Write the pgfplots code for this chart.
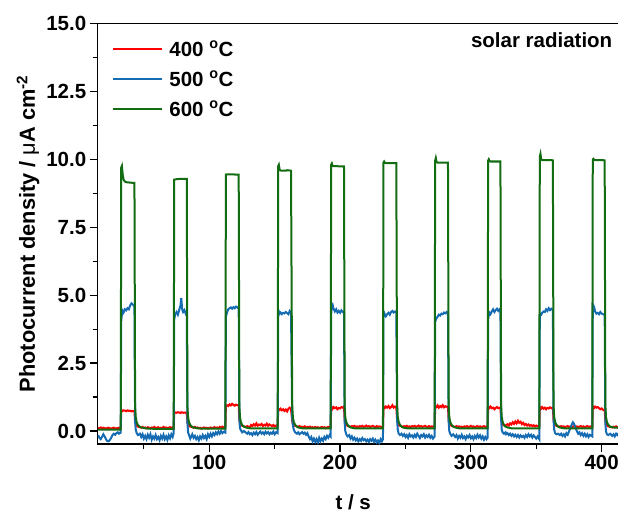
\documentclass[border=0pt]{standalone}
\usepackage{fontspec}
\setmainfont{Liberation Sans}
\usepackage{pgfplots}
\pgfplotsset{compat=1.18}
\usepackage{pgfplotstable}
\usetikzlibrary{calc}
\definecolor{cred}{RGB}{255,0,0}
\definecolor{cblue}{RGB}{22,108,178}
\definecolor{cgreen}{RGB}{18,108,18}

\pgfplotstableread{
t r b g
15 0.12 -0.15 0.05
16 0.10 -0.25 0.05
17 0.13 -0.30 0.05
18 0.11 -0.22 0.05
19 0.12 -0.12 0.05
20 0.10 -0.20 0.05
21 0.09 -0.30 0.05
22 0.11 -0.37 0.05
23 0.12 -0.38 0.05
24 0.10 -0.33 0.05
25 0.08 -0.25 0.05
26 0.11 -0.15 0.05
27 0.12 -0.10 0.05
28 0.10 -0.14 0.05
29 0.09 -0.08 0.05
30 0.11 -0.05 0.05
31 0.12 -0.10 0.05
32.3 0.10 -0.06 0.05
32.7 0.70 4.05 9.70
33.2 0.76 4.30 9.76
33.8 0.74 4.42 9.45
34.5 0.76 4.36 9.25
35.5 0.75 4.48 9.18
36.5 0.73 4.44 9.16
37.5 0.76 4.52 9.15
38.5 0.74 4.48 9.15
39.5 0.75 4.62 9.14
40.5 0.72 4.70 9.14
41.5 0.74 4.66 9.13
42.8 0.72 4.58 9.13
43.3 0.35 0.35 0.90
43.8 0.26 0.05 0.50
44.5 0.20 -0.08 0.32
45.5 0.16 -0.15 0.22
47 0.14 -0.10 0.15
48 0.12 -0.22 0.13
49 0.15 -0.12 0.12
50 0.11 -0.28 0.11
51 0.13 -0.18 0.10
52 0.10 -0.30 0.10
53 0.14 -0.14 0.09
54 0.12 -0.25 0.09
55 0.09 -0.12 0.09
56 0.13 -0.32 0.09
57 0.11 -0.20 0.08
58 0.15 -0.28 0.08
59 0.10 -0.15 0.08
60 0.12 -0.30 0.08
61 0.14 -0.22 0.08
62 0.09 -0.34 0.08
63 0.12 -0.18 0.08
64 0.10 -0.28 0.08
65 0.15 -0.14 0.08
66 0.11 -0.30 0.08
67 0.13 -0.20 0.08
68 0.10 -0.33 0.08
69 0.12 -0.16 0.08
70 0.14 -0.27 0.08
71 0.11 -0.12 0.08
72 0.13 -0.22 0.08
72.8 0.12 -0.08 0.08
73.2 0.66 4.10 9.25
74 0.68 4.30 9.26
75 0.67 4.38 9.27
76 0.69 4.28 9.27
77 0.68 4.45 9.28
78 0.66 4.62 9.28
78.6 0.69 4.90 9.28
79.2 0.68 4.50 9.28
80 0.67 4.38 9.28
81 0.68 4.45 9.28
82 0.67 4.32 9.28
82.8 0.68 4.40 9.28
83.3 0.32 0.30 0.90
83.8 0.24 -0.05 0.50
84.5 0.19 -0.15 0.32
85.5 0.16 -0.28 0.22
87 0.14 -0.12 0.15
88 0.12 -0.25 0.13
89 0.15 -0.18 0.12
90 0.11 -0.30 0.11
91 0.13 -0.22 0.10
92 0.10 -0.34 0.10
93 0.12 -0.20 0.09
94 0.09 -0.28 0.09
95 0.11 -0.15 0.09
96 0.13 -0.26 0.09
97 0.10 -0.18 0.09
98 0.12 -0.30 0.09
99 0.09 -0.12 0.09
100 0.11 -0.22 0.09
101 0.13 -0.10 0.09
102 0.10 -0.20 0.09
103 0.12 -0.08 0.09
104 0.14 -0.15 0.09
105 0.11 -0.05 0.09
106 0.13 -0.12 0.09
107 0.10 -0.02 0.09
108 0.15 -0.10 0.09
109 0.12 0.00 0.09
110 0.16 -0.08 0.09
111 0.13 -0.03 0.09
112.3 0.15 -0.06 0.09
112.7 0.90 4.20 9.44
113.5 0.95 4.35 9.45
114.5 0.92 4.48 9.45
115.5 0.98 4.52 9.45
116.5 0.94 4.55 9.45
117.5 1.00 4.50 9.45
118.5 0.96 4.56 9.45
119.5 0.93 4.52 9.44
120.5 0.97 4.58 9.44
121.5 0.95 4.55 9.44
122.5 0.96 4.50 9.44
123 0.40 0.40 0.90
123.5 0.28 0.10 0.50
124.2 0.22 0.02 0.32
125.2 0.19 -0.05 0.22
126.5 0.17 0.00 0.16
128 0.15 -0.06 0.13
129 0.18 -0.10 0.12
130 0.16 -0.04 0.11
131 0.14 -0.12 0.10
132 0.22 -0.08 0.10
133 0.18 -0.15 0.10
134 0.25 -0.06 0.10
135 0.20 -0.12 0.10
136 0.28 -0.04 0.10
137 0.19 -0.14 0.10
138 0.24 -0.08 0.10
139 0.21 -0.02 0.10
140 0.26 -0.10 0.10
141 0.18 -0.05 0.10
142 0.23 -0.12 0.10
143 0.20 -0.03 0.10
144 0.27 -0.09 0.10
145 0.19 -0.04 0.10
146 0.24 -0.12 0.10
147 0.21 -0.06 0.10
148 0.18 -0.10 0.10
149 0.22 -0.02 0.10
150 0.17 -0.12 0.10
151 0.20 -0.05 0.10
152.3 0.18 -0.08 0.10
152.7 0.75 4.20 9.75
153.2 0.80 4.40 9.80
153.8 0.78 4.32 9.62
154.5 0.82 4.36 9.59
155.5 0.76 4.30 9.58
156.5 0.80 4.35 9.58
157.5 0.74 4.33 9.58
158.5 0.79 4.38 9.58
159.5 0.72 4.34 9.60
160.5 0.82 4.30 9.59
161.5 0.86 4.42 9.59
162.5 0.80 4.36 9.58
163.4 0.38 0.50 0.95
163.9 0.27 0.20 0.52
164.6 0.22 0.05 0.33
165.6 0.19 -0.05 0.23
167 0.17 -0.10 0.16
168 0.15 -0.05 0.13
169 0.18 -0.12 0.12
170 0.14 -0.08 0.11
171 0.16 -0.04 0.10
172 0.13 -0.10 0.10
173 0.17 -0.06 0.10
174 0.12 -0.14 0.10
175 0.15 -0.08 0.10
176 0.13 -0.20 0.10
177 0.16 -0.30 0.10
178 0.12 -0.22 0.10
179 0.14 -0.38 0.10
180 0.11 -0.28 0.10
181 0.15 -0.40 0.10
182 0.12 -0.30 0.10
183 0.14 -0.42 0.10
184 0.11 -0.25 0.10
185 0.13 -0.38 0.10
186 0.15 -0.28 0.10
187 0.12 -0.36 0.10
188 0.14 -0.22 0.10
189 0.10 -0.30 0.10
190 0.13 -0.18 0.10
191 0.15 -0.25 0.10
192 0.12 -0.15 0.10
192.8 0.14 -0.20 0.10
193.2 0.80 4.30 9.80
193.7 0.86 4.60 9.85
194.3 0.82 4.65 9.76
195 0.88 4.50 9.75
196 0.84 4.40 9.75
197 0.87 4.48 9.75
198 0.80 4.36 9.75
199 0.85 4.42 9.74
200 0.83 4.35 9.74
201 0.88 4.44 9.74
202 0.86 4.38 9.74
203 0.90 4.40 9.74
203.5 0.40 0.30 0.92
204 0.28 0.00 0.50
204.7 0.22 -0.12 0.33
205.7 0.19 -0.20 0.23
207 0.17 -0.15 0.16
208 0.15 -0.28 0.13
209 0.18 -0.20 0.12
210 0.16 -0.32 0.11
211 0.19 -0.25 0.10
212 0.15 -0.35 0.10
213 0.17 -0.28 0.10
214 0.14 -0.38 0.10
215 0.18 -0.30 0.10
216 0.16 -0.36 0.10
217 0.19 -0.26 0.10
218 0.15 -0.34 0.10
219 0.17 -0.30 0.10
220 0.20 -0.38 0.10
221 0.16 -0.32 0.10
222 0.18 -0.40 0.10
223 0.15 -0.30 0.10
224 0.17 -0.36 0.10
225 0.19 -0.28 0.10
226 0.16 -0.40 0.10
227 0.14 -0.32 0.10
228 0.18 -0.42 0.10
229 0.15 -0.35 0.10
230 0.17 -0.44 0.10
231 0.16 -0.30 0.10
232 0.14 -0.38 0.10
232.8 0.15 -0.30 0.10
233.2 0.82 4.20 9.88
233.7 0.88 4.35 9.92
234.3 0.85 4.28 9.87
235 0.90 4.22 9.86
236 0.86 4.30 9.86
237 0.92 4.35 9.86
238 0.84 4.28 9.86
239 0.88 4.38 9.86
240 0.95 4.42 9.86
241 0.86 4.36 9.86
242 0.90 4.40 9.86
243 0.88 4.38 9.86
243.6 0.40 0.40 0.95
244.1 0.28 0.05 0.52
244.8 0.22 -0.10 0.33
245.8 0.19 -0.15 0.23
247 0.17 -0.10 0.16
248 0.15 -0.18 0.13
249 0.18 -0.12 0.12
250 0.16 -0.22 0.11
251 0.19 -0.15 0.10
252 0.15 -0.25 0.10
253 0.17 -0.12 0.10
254 0.14 -0.20 0.10
255 0.18 -0.16 0.10
256 0.16 -0.24 0.10
257 0.19 -0.14 0.10
258 0.15 -0.22 0.10
259 0.17 -0.10 0.10
260 0.20 -0.18 0.10
261 0.16 -0.26 0.10
262 0.18 -0.15 0.10
263 0.15 -0.20 0.10
264 0.17 -0.12 0.10
265 0.19 -0.24 0.10
266 0.16 -0.16 0.10
267 0.14 -0.22 0.10
268 0.18 -0.14 0.10
269 0.15 -0.25 0.10
270 0.17 -0.18 0.10
271 0.16 -0.28 0.10
272.3 0.14 -0.20 0.10
272.7 0.85 4.00 9.95
273.2 0.90 4.10 10.05
273.8 0.88 4.15 9.90
274.5 0.94 4.20 9.88
275.5 0.86 4.28 9.88
276.5 0.92 4.25 9.88
277.5 0.88 4.32 9.88
278.5 0.95 4.30 9.88
279.5 0.87 4.36 9.88
280.5 0.91 4.33 9.88
281.5 0.89 4.38 9.88
282.5 0.90 4.35 9.88
283 0.40 0.35 0.95
283.5 0.28 0.00 0.52
284.2 0.22 -0.10 0.33
285.2 0.19 -0.18 0.23
286.5 0.17 -0.12 0.16
288 0.15 -0.22 0.13
289 0.18 -0.15 0.12
290 0.14 -0.28 0.11
291 0.17 -0.18 0.10
292 0.15 -0.25 0.10
293 0.16 -0.14 0.10
294 0.13 -0.26 0.10
295 0.17 -0.20 0.10
296 0.15 -0.30 0.10
297 0.18 -0.18 0.10
298 0.14 -0.24 0.10
299 0.16 -0.15 0.10
300 0.19 -0.27 0.10
301 0.15 -0.20 0.10
302 0.17 -0.30 0.10
303 0.14 -0.18 0.10
304 0.16 -0.26 0.10
305 0.18 -0.14 0.10
306 0.15 -0.24 0.10
307 0.17 -0.16 0.10
308 0.14 -0.28 0.10
309 0.16 -0.20 0.10
310 0.18 -0.32 0.10
311 0.15 -0.22 0.10
312 0.16 -0.30 0.10
312.8 0.15 -0.25 0.10
313.2 0.82 4.10 9.95
313.7 0.88 4.25 10.00
314.3 0.85 4.35 9.93
315 0.90 4.30 9.92
316 0.84 4.40 9.92
317 0.86 4.48 9.92
318 0.80 4.38 9.92
319 0.85 4.45 9.92
320 0.88 4.50 9.92
321 0.84 4.42 9.92
322 0.86 4.48 9.92
322.6 0.85 4.45 9.92
323.1 0.45 0.45 0.95
323.6 0.30 0.05 0.52
324.3 0.24 -0.05 0.33
325.3 0.21 -0.10 0.23
326.5 0.20 -0.05 0.16
327 0.22 -0.12 0.15
328 0.25 -0.08 0.13
329 0.20 -0.15 0.12
330 0.28 -0.10 0.11
331 0.24 -0.18 0.10
332 0.32 -0.12 0.10
333 0.26 -0.20 0.10
334 0.35 -0.14 0.10
335 0.28 -0.22 0.10
336 0.38 -0.15 0.10
337 0.30 -0.24 0.10
338 0.34 -0.16 0.10
339 0.25 -0.22 0.10
340 0.30 -0.18 0.10
341 0.22 -0.25 0.10
342 0.26 -0.15 0.10
343 0.20 -0.22 0.10
344 0.24 -0.12 0.10
345 0.19 -0.20 0.10
346 0.22 -0.14 0.10
347 0.18 -0.24 0.10
348 0.21 -0.16 0.10
349 0.17 -0.22 0.10
350 0.20 -0.28 0.10
351 0.18 -0.20 0.10
352.3 0.19 -0.30 0.10
352.7 0.80 4.20 10.10
353.2 0.86 4.30 10.20
353.8 0.83 4.28 10.00
354.5 0.88 4.35 9.97
355.5 0.82 4.40 9.97
356.5 0.86 4.38 9.97
357.5 0.80 4.48 9.97
358.5 0.85 4.42 9.97
359.5 0.83 4.52 9.97
360.5 0.87 4.45 9.97
361.5 0.84 4.50 9.97
362.7 0.86 4.46 9.96
363.2 0.40 0.40 0.95
363.7 0.28 0.05 0.52
364.4 0.22 -0.08 0.33
365.4 0.19 -0.12 0.23
366.7 0.17 -0.10 0.16
368 0.16 -0.15 0.13
369 0.18 -0.10 0.12
370 0.15 -0.18 0.11
371 0.17 -0.12 0.10
372 0.14 -0.20 0.10
373 0.16 -0.08 0.10
374 0.18 -0.14 0.10
375 0.15 -0.02 0.10
376 0.17 0.10 0.10
377 0.14 0.22 0.10
378 0.16 0.32 0.10
379 0.18 0.25 0.10
380 0.15 0.12 0.10
381 0.17 0.00 0.10
382 0.14 -0.10 0.10
383 0.16 -0.05 0.10
384 0.18 -0.15 0.10
385 0.15 -0.08 0.10
386 0.17 -0.18 0.10
387 0.14 -0.10 0.10
388 0.16 -0.20 0.10
389 0.18 -0.12 0.10
390 0.15 -0.22 0.10
391 0.17 -0.14 0.10
392.8 0.15 -0.20 0.10
393.2 0.82 4.40 10.00
393.7 0.88 4.62 10.02
394.3 0.85 4.55 9.98
395 0.90 4.40 9.97
396 0.86 4.32 9.97
397 0.88 4.35 9.97
398 0.84 4.30 9.97
399 0.80 4.38 9.97
400 0.83 4.32 9.97
401 0.78 4.30 9.97
402.3 0.76 4.28 9.96
402.8 0.38 0.30 0.95
403.3 0.26 -0.02 0.52
404 0.20 -0.12 0.33
405 0.17 -0.15 0.23
406.5 0.15 -0.10 0.16
408 0.13 -0.18 0.14
409 0.16 -0.12 0.13
410 0.14 -0.20 0.12
411 0.17 -0.10 0.12
412 0.13 -0.15 0.12
413 0.15 -0.08 0.12
}\data

\newcommand{\lblfont}{\fontsize{20.5}{24}\selectfont\bfseries}

\begin{document}
\begin{tikzpicture}
\begin{axis}[
  scale only axis,
  width=521.1pt, height=420.5pt,
  xmin=14.7, xmax=413.1, ymin=-0.479, ymax=15,
  xtick={100,200,300,400},
  minor xtick={50,150,250,350},
  ytick={0,2.5,5,7.5,10,12.5,15},
  minor ytick={1.25,3.75,6.25,8.75,11.25,13.75},
  tick align=outside,
  xtick pos=bottom, ytick pos=left,
  major tick length=8pt, minor tick length=5pt,
  every tick/.style={black, line width=1.2pt},
  axis line style={black, line width=1.3pt},
  /pgf/number format/assume math mode=true,
  tick label style={font=\lblfont},
  yticklabel style={/pgf/number format/fixed, /pgf/number format/fixed zerofill, /pgf/number format/precision=1},
  xlabel={t / s},
  ylabel={Photocurrent density / {\mdseries μ}A cm\textsuperscript{-2}},
  xlabel style={font=\lblfont, at={(axis description cs:0.5,0)}, anchor=center, yshift=-58pt, xshift=-5pt},
  ylabel style={font=\fontsize{21.8}{25}\selectfont\bfseries, at={(axis description cs:0,0.5)}, anchor=center, yshift=69.7pt},
  legend style={draw=none, fill=none, at={(axis description cs:0,1)}, anchor=north west,
    xshift=11.3pt, yshift=-15.5pt, font=\lblfont, row sep=15pt, column sep=6pt,
    nodes={inner sep=0pt, text height=15pt, text depth=0pt}},
  legend cell align=left,
  legend image code/.code={\draw[#1, line width=2.2pt] (0pt,0pt) -- (49pt,0pt);},
]
\addplot[cred, line width=2pt] table[x=t, y=r] {\data};
\addlegendentry{400 \textsuperscript{o}C}
\addplot[cblue, line width=2pt] table[x=t, y=b] {\data};
\addlegendentry{500 \textsuperscript{o}C}
\addplot[cgreen, line width=2pt] table[x=t, y=g] {\data};
\addlegendentry{600 \textsuperscript{o}C}
\end{axis}
\node[anchor=base east, font=\lblfont] at ($(current axis.north east)+(-3pt,-24.5pt)$) {solar radiation};
\pgfresetboundingbox
\path[use as bounding box] ($(current axis.south west)+(-97.7pt,-70pt)$) rectangle ($(current axis.north east)+(-0.8pt,23.5pt)$);
\end{tikzpicture}
\end{document}
